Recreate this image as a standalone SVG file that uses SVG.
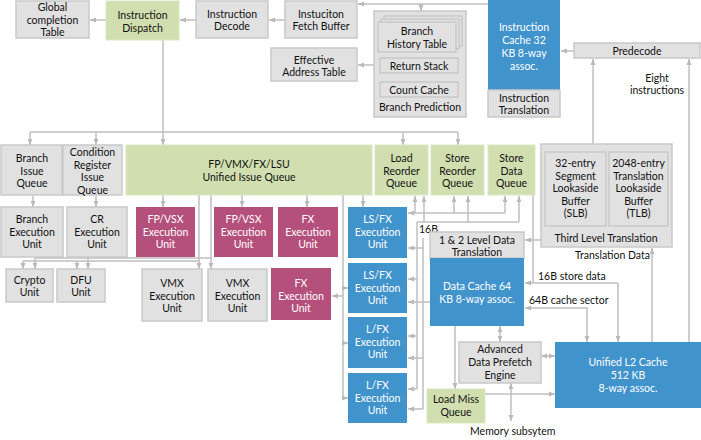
<svg xmlns="http://www.w3.org/2000/svg" width="701" height="440" viewBox="0 0 701 440">
<defs>
<marker id="ah" viewBox="0 0 10 10" refX="10" refY="5" markerWidth="6" markerHeight="6" orient="auto-start-reverse" markerUnits="userSpaceOnUse"><path d="M0,1 L10,5 L0,9 z" fill="#b9b9b9"/></marker>
<style>
.g{fill:#e1e1e1;stroke:#c9c9c9;stroke-width:1.5}
.gi{fill:#e1e1e1;stroke:#c4c4c4;stroke-width:1.2}
.gr{fill:#d1dfb0;stroke:#dbe6c3;stroke-width:1}
.p{fill:#b5507c}
.b{fill:#4193cc}
text{font-family:Lato,"Liberation Sans",sans-serif;font-size:10.5px;fill:#111;text-anchor:middle}
text.w{fill:#fff}
text.s{text-anchor:start}
.c path{fill:none;stroke:#bfbfbf;stroke-width:1.5}
.c path.a{marker-end:url(#ah)}
.c path.d{marker-start:url(#ah);marker-end:url(#ah)}
</style>
</defs>
<rect width="701" height="440" fill="#fff"/>
<g id="connectors" class="c">
<path class="a" d="M285,20 H269"/>
<path class="a" d="M196,20 H180"/>
<path class="a" d="M106,20 H90"/>
<path class="a" d="M488,4 H358"/>
<path class="a" d="M421,4 V11"/>
<path class="a" d="M374,65 H358"/>
<path class="a" d="M574,51 H561"/>
<path class="a" d="M593,144 V59"/>
<path class="a" d="M689,342 V59"/>
<path d="M163,40 V132 M30,132 H458"/>
<path class="a" d="M30,132 V145"/>
<path class="a" d="M96,132 V145"/>
<path class="a" d="M163,132 V145"/>
<path class="a" d="M403,132 V145"/>
<path class="a" d="M458,132 V145"/>
<path class="a" d="M33,196 V207"/>
<path class="a" d="M96,196 V207"/>
<path class="a" d="M163,195 V207"/>
<path class="a" d="M242,195 V207"/>
<path class="a" d="M307,195 V207"/>
<path class="a" d="M363,195 V207"/>
<path class="a" d="M199,195 V269"/>
<path class="a" d="M211,195 V269"/>
<path d="M199,261 H23 M211,258 H35"/>
<path class="a" d="M23,261 V269"/>
<path class="a" d="M77,261 V269"/>
<path class="a" d="M35,258 V269"/>
<path class="a" d="M88,258 V269"/>
<path d="M343,195 V398"/>
<path class="a" d="M343,288 H348"/>
<path class="a" d="M343,343 H348"/>
<path class="a" d="M343,398 H348"/>
<path class="a" d="M343,296 H332"/>
<path class="a" d="M505,213 H408"/>
<path class="a" d="M415,213 V196"/>
<path class="a" d="M454,213 V196"/>
<path class="a" d="M505,213 V196"/>
<path d="M417,222 H519"/>
<path class="a" d="M424,222 V196"/>
<path class="a" d="M468,222 V196"/>
<path class="a" d="M519,222 V196"/>
<path d="M417,222 V389"/>
<path class="a" d="M417,279 H408"/>
<path class="a" d="M417,336 H408"/>
<path class="a" d="M417,389 H408"/>
<path d="M423,238 V409 M430,302 H423"/>
<path class="a" d="M423,248 H408"/>
<path class="a" d="M423,302 H408"/>
<path class="a" d="M423,358 H408"/>
<path class="a" d="M423,409 H408"/>
<path class="a" d="M541,240 H525"/>
<path d="M533,195 V283"/>
<path class="a" d="M618,283 H525"/>
<path class="a" d="M618,283 V342"/>
<path class="d" d="M525,308 H587 V342"/>
<path class="a" d="M652,342 V248"/>
<path class="a" d="M455,326 V389"/>
<path class="d" d="M500,326 V342"/>
<path class="d" d="M541,356 H555"/>
<path class="a" d="M485,394 H555"/>
<path class="d" d="M511,383 V421"/>
<text class="s" x="419" y="233">16B</text>
<text class="s" x="538" y="280">16B store data</text>
<text class="s" x="529" y="304">64B cache sector</text>
<text class="s" x="575" y="259">Translation Data</text>
<text class="s" x="470" y="435">Memory subsytem</text>
<text x="657" y="82">Eight</text>
<text x="657" y="94">instructions</text>
</g>
<g id="gct"><rect class="g" x="16" y="1" width="73" height="37"/><text x="52.5" y="11">Global</text><text x="52.5" y="23.5">completion</text><text x="52.5" y="36">Table</text></g>
<g id="dispatch"><rect class="gr" x="106" y="1" width="73" height="39"/><text x="142.5" y="19">Instruction</text><text x="142.5" y="31.5">Dispatch</text></g>
<g id="decode"><rect class="g" x="196" y="1" width="72" height="37"/><text x="232" y="17.5">Instruction</text><text x="232" y="30">Decode</text></g>
<g id="fetch"><rect class="g" x="285" y="1" width="72" height="37"/><text x="321" y="17.5">Instuciton</text><text x="321" y="30">Fetch Buffer</text></g>
<g id="branch-prediction"><rect class="g" x="374" y="11" width="92" height="106"/>
<rect class="gi" x="384" y="16" width="78" height="30"/><rect class="gi" x="381" y="19" width="78" height="30"/><rect class="gi" x="378" y="22" width="78" height="30"/>
<text x="417" y="35">Branch</text><text x="417" y="47.5">History Table</text>
<rect class="gi" x="380" y="58" width="78" height="15"/><text x="419" y="69.5">Return Stack</text>
<rect class="gi" x="380" y="82" width="78" height="15"/><text x="419" y="93.5">Count Cache</text>
<text x="420" y="111">Branch Prediction</text></g>
<g id="eat"><rect class="g" x="271" y="48" width="86" height="33"/><text x="314" y="63.5">Effective</text><text x="314" y="76">Address Table</text></g>
<g id="icache"><rect class="b" x="488" y="0" width="72" height="90"/><text class="w" x="524" y="31">Instruction</text><text class="w" x="524" y="44">Cache 32</text><text class="w" x="524" y="57">KB 8-way</text><text class="w" x="524" y="70">assoc.</text></g>
<g id="itrans"><rect class="g" x="488" y="90" width="72" height="27"/><text x="524" y="102">Instruction</text><text x="524" y="114">Translation</text></g>
<g id="predecode"><rect class="g" x="574" y="43" width="126" height="15"/><text x="637" y="55">Predecode</text></g>
<g id="biq"><rect class="g" x="1" y="145" width="61" height="50"/><text x="32" y="162">Branch</text><text x="32" y="174.5">Issue</text><text x="32" y="187">Queue</text></g>
<g id="criq"><rect class="g" x="63" y="145" width="59" height="50"/><text x="92.5" y="156">Condition</text><text x="92.5" y="168.5">Register</text><text x="92.5" y="181">Issue</text><text x="92.5" y="193.5">Queue</text></g>
<g id="uiq"><rect class="gr" x="126" y="145" width="246" height="50"/><text x="249" y="168">FP/VMX/FX/LSU</text><text x="249" y="181">Unified Issue Queue</text></g>
<g id="lrq"><rect class="gr" x="375" y="145" width="53" height="50"/><text x="401.5" y="162">Load</text><text x="401.5" y="174.5">Reorder</text><text x="401.5" y="187">Queue</text></g>
<g id="srq"><rect class="gr" x="431" y="145" width="53" height="50"/><text x="457.5" y="162">Store</text><text x="457.5" y="174.5">Reorder</text><text x="457.5" y="187">Queue</text></g>
<g id="sdq"><rect class="gr" x="488" y="145" width="47" height="50"/><text x="511.5" y="162">Store</text><text x="511.5" y="174.5">Data</text><text x="511.5" y="187">Queue</text></g>
<g id="third-level"><rect class="g" x="541" y="144" width="131" height="103"/>
<rect class="gi" x="545" y="152" width="61" height="74"/><text x="575.5" y="167">32-entry</text><text x="575.5" y="179.5">Segment</text><text x="575.5" y="192">Lookaside</text><text x="575.5" y="204.5">Buffer</text><text x="575.5" y="217">(SLB)</text>
<rect class="gi" x="609" y="152" width="59" height="74"/><text x="638.5" y="167">2048-entry</text><text x="638.5" y="179.5">Translation</text><text x="638.5" y="192">Lookaside</text><text x="638.5" y="204.5">Buffer</text><text x="638.5" y="217">(TLB)</text>
<text x="606" y="242">Third Level Translation</text></g>
<g id="bex"><rect class="g" x="1" y="207" width="62" height="50"/><text x="32" y="223">Branch</text><text x="32" y="235.5">Execution</text><text x="32" y="248">Unit</text></g>
<g id="crex"><rect class="g" x="67" y="207" width="60" height="50"/><text x="97" y="223">CR</text><text x="97" y="235.5">Execution</text><text x="97" y="248">Unit</text></g>
<g id="fpvsx1"><rect class="p" x="136" y="207" width="59" height="50"/><text class="w" x="165.5" y="223">FP/VSX</text><text class="w" x="165.5" y="235.5">Execution</text><text class="w" x="165.5" y="248">Unit</text></g>
<g id="fpvsx2"><rect class="p" x="214" y="207" width="59" height="50"/><text class="w" x="243.5" y="223">FP/VSX</text><text class="w" x="243.5" y="235.5">Execution</text><text class="w" x="243.5" y="248">Unit</text></g>
<g id="fx1"><rect class="p" x="278" y="207" width="60" height="50"/><text class="w" x="308" y="223">FX</text><text class="w" x="308" y="235.5">Execution</text><text class="w" x="308" y="248">Unit</text></g>
<g id="lsfx1"><rect class="b" x="348" y="207" width="59" height="51"/><text class="w" x="377.5" y="223">LS/FX</text><text class="w" x="377.5" y="235.5">Execution</text><text class="w" x="377.5" y="248">Unit</text></g>
<g id="lsfx2"><rect class="b" x="348" y="263" width="59" height="50"/><text class="w" x="377.5" y="279">LS/FX</text><text class="w" x="377.5" y="291.5">Execution</text><text class="w" x="377.5" y="304">Unit</text></g>
<g id="lfx3"><rect class="b" x="348" y="317" width="59" height="51"/><text class="w" x="377.5" y="333">L/FX</text><text class="w" x="377.5" y="345.5">Execution</text><text class="w" x="377.5" y="358">Unit</text></g>
<g id="lfx4"><rect class="b" x="348" y="373" width="59" height="50"/><text class="w" x="377.5" y="389">L/FX</text><text class="w" x="377.5" y="401.5">Execution</text><text class="w" x="377.5" y="414">Unit</text></g>
<g id="dtrans"><rect class="g" x="430" y="232" width="94" height="26"/><text x="477" y="243.5">1 &amp; 2 Level Data</text><text x="477" y="255.5">Translation</text></g>
<g id="dcache"><rect class="b" x="430" y="258" width="94" height="68"/><text class="w" x="477" y="290">Data Cache 64</text><text class="w" x="477" y="302.5">KB 8-way assoc.</text></g>
<g id="crypto"><rect class="g" x="6" y="269" width="47" height="33"/><text x="29.5" y="283.5">Crypto</text><text x="29.5" y="296">Unit</text></g>
<g id="dfu"><rect class="g" x="57" y="269" width="48" height="33"/><text x="81" y="283.5">DFU</text><text x="81" y="296">Unit</text></g>
<g id="vmx1"><rect class="g" x="142" y="269" width="60" height="52"/><text x="172" y="287">VMX</text><text x="172" y="299.5">Execution</text><text x="172" y="312">Unit</text></g>
<g id="vmx2"><rect class="g" x="208" y="269" width="59" height="52"/><text x="237.5" y="287">VMX</text><text x="237.5" y="299.5">Execution</text><text x="237.5" y="312">Unit</text></g>
<g id="fx2"><rect class="p" x="271" y="268" width="60" height="52"/><text class="w" x="301" y="287">FX</text><text class="w" x="301" y="299.5">Execution</text><text class="w" x="301" y="312">Unit</text></g>
<g id="adpe"><rect class="g" x="459" y="342" width="82" height="41"/><text x="500" y="353">Advanced</text><text x="500" y="366">Data Prefetch</text><text x="500" y="378.5">Engine</text></g>
<g id="lmq"><rect class="gr" x="427" y="389" width="58" height="34"/><text x="456" y="403">Load Miss</text><text x="456" y="416">Queue</text></g>
<g id="l2"><rect class="b" x="555" y="342" width="146" height="66"/><text class="w" x="628" y="366">Unified L2 Cache</text><text class="w" x="628" y="379">512 KB</text><text class="w" x="628" y="392">8-way assoc.</text></g>
</svg>
